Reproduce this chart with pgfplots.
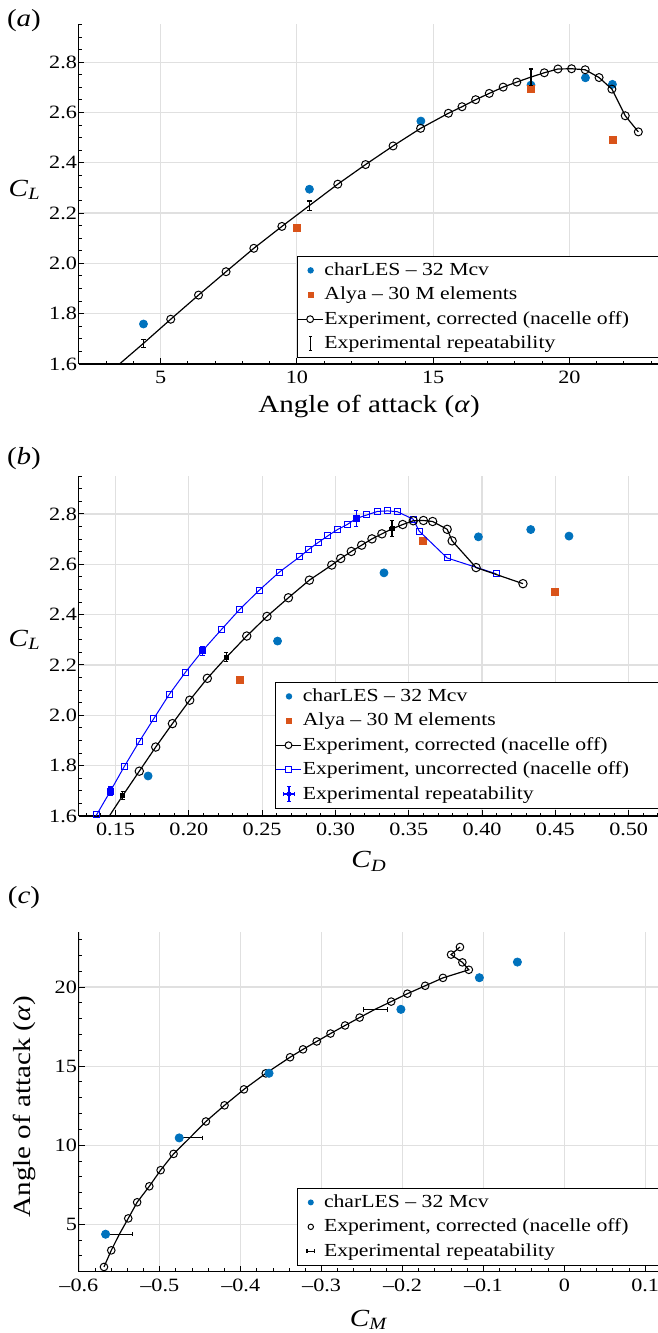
\documentclass[border=0pt]{standalone}
\usepackage{fontspec}
\setmainfont{Liberation Serif}[FakeStretch=1.18]
\usepackage{pgfplots}
\pgfplotsset{compat=1.18}
\usepackage{pgfplotstable}

\definecolor{cblue}{RGB}{0,114,189}
\definecolor{corange}{RGB}{217,83,25}
\definecolor{gridgray}{RGB}{224,224,224}
\definecolor{ublue}{RGB}{0,0,255}

\newcommand\tickfont{\fontsize{9.4}{11}\selectfont}
\newcommand\labfont{\fontsize{12.3}{14}\selectfont}
\newcommand\legfont{\fontsize{9.2}{11}\selectfont}

% alpha, CL corrected, CD corrected, CL uncorrected, CD uncorrected, CM
\pgfplotstableread{
a CLc CDc CLu CDu CM
2.30 1.490 0.1340 1.510 0.1267 -0.569
3.35 1.587 0.1443 1.604 0.1370 -0.560
4.37 1.682 0.1550 1.699 0.1465 -0.550
5.37 1.778 0.1662 1.796 0.1559 -0.539
6.39 1.874 0.1774 1.894 0.1660 -0.528
7.40 1.967 0.1888 1.988 0.1762 -0.513
8.42 2.060 0.2006 2.082 0.1865 -0.499
9.45 2.147 0.2126 2.172 0.1978 -0.483
10.46 2.230 0.2255 2.257 0.2094 -0.463
11.50 2.315 0.2395 2.340 0.2221 -0.443
12.52 2.393 0.2533 2.421 0.2347 -0.420
13.53 2.467 0.2679 2.497 0.2480 -0.396
14.54 2.537 0.2822 2.569 0.2617 -0.369
15.56 2.597 0.2975 2.630 0.2757 -0.339
16.06 2.623 0.3036 2.658 0.2815 -0.323
16.56 2.651 0.3108 2.686 0.2881 -0.306
17.06 2.676 0.3179 2.713 0.2948 -0.289
17.57 2.701 0.3249 2.738 0.3014 -0.271
18.07 2.721 0.3317 2.759 0.3083 -0.253
18.59 2.741 0.3386 2.782 0.3142 -0.234
19.08 2.758 0.3459 2.796 0.3215 -0.214
19.58 2.773 0.3531 2.810 0.3286 -0.194
20.08 2.774 0.3600 2.812 0.3356 -0.172
20.58 2.770 0.3663 2.809 0.3422 -0.150
21.09 2.739 0.3762 2.779 0.3531 -0.118
21.56 2.693 0.3796 2.732 0.3571 -0.126
22.05 2.587 0.3959 2.625 0.3762 -0.140
22.53 2.523 0.4279 2.562 0.4098 -0.129
}\expdata

\pgfplotstableread{
a CL CD CM
4.37 1.759 0.1722 -0.567
10.46 2.295 0.2605 -0.476
14.55 2.566 0.3331 -0.365
18.59 2.709 0.3975 -0.202
20.59 2.738 0.4332 -0.105
21.58 2.712 0.4593 -0.058
}\charles

\pgfplotstableread{
a CL CD
10.00 2.140 0.2346
18.59 2.692 0.3597
21.58 2.491 0.4496
}\alya

\pgfplotstableread{
a CL CD CDu CLu CM eCL eCD eCM
4.37 1.682 0.1550 0.1465 1.699 -0.5500 0.016 0.0010 0.0160
10.46 2.230 0.2255 0.2094 2.257 -0.4635 0.018 0.0012 0.0160
18.59 2.741 0.3386 0.3142 2.782 -0.2336 0.032 0.0015 0.0145
}\ebdata

\pgfplotsset{
  myax/.style={
    scale only axis, width=290.2pt,
    axis x line*=bottom, axis y line*=left,
    axis line style={-, line width=0.55pt, black},
    tick align=inside, major tick length=2.8pt, minor tick length=1.6pt,
    tick style={black, line width=0.5pt},
    xmajorgrids, ymajorgrids,
    major grid style={gridgray, line width=0.6pt},
    tick label style={font=\tickfont},
    /pgf/number format/assume math mode=true,
    label style={font=\labfont},
    yticklabel style={inner xsep=0.8pt},
    xticklabel style={inner ysep=1pt, yshift=-2.5pt},
    clip mode=individual,
    legend cell align=left,
    legend style={draw=black, line width=0.5pt, fill=white, font=\legfont,
      anchor=north west, inner xsep=0pt, inner ysep=1pt, row sep=0pt,
      column sep=0pt,
      nodes={inner xsep=0.6pt, inner ysep=1.6pt, text height=7pt, text depth=2pt}},
  },
  errbar/.style={error bars/error bar style={line width=0.55pt},
    error bars/error mark options={rotate=90, mark size=1.1pt, line width=0.55pt}},
  imgdot/.style={legend image code/.code={\path[draw=none,fill=none] (0pt,-3pt) rectangle (12.5pt,3pt);
      \fill[cblue, draw=none] (6.5pt,0pt) circle (1.6pt);}},
  imgsq/.style={legend image code/.code={\path[draw=none,fill=none] (0pt,-3pt) rectangle (12.5pt,3pt);
      \fill[corange, draw=none] (5pt,-1.5pt) rectangle (8pt,1.5pt);}},
  imgcirc/.style={legend image code/.code={\path[draw=none,fill=none] (0pt,-3pt) rectangle (12.5pt,3pt);
      \draw[black, line width=0.6pt] (0pt,0pt) -- (12.5pt,0pt);
      \draw[black, line width=0.5pt, fill=white] (6.25pt,0pt) circle (1.7pt);}},
  imgusq/.style={legend image code/.code={\path[draw=none,fill=none] (0pt,-3pt) rectangle (12.5pt,3pt);
      \draw[ublue, line width=0.5pt] (0pt,0pt) -- (12.5pt,0pt);
      \draw[ublue, line width=0.5pt, fill=white] (4.9pt,-1.35pt) rectangle (7.6pt,1.35pt);}},
  imgebv/.style={legend image code/.code={\path[draw=none,fill=none] (0pt,-3pt) rectangle (12.5pt,3pt);
      \draw[black, line width=0.55pt] (6.5pt,-3.6pt) -- (6.5pt,3.6pt)
        (5.6pt,-3.6pt) -- (7.4pt,-3.6pt) (5.6pt,3.6pt) -- (7.4pt,3.6pt);}},
  imgebx/.style={legend image code/.code={\path[draw=none,fill=none] (0pt,-3pt) rectangle (12.5pt,3pt);
      \draw[ublue, line width=0.6pt] (6.5pt,-3.8pt) -- (6.5pt,3.8pt)
        (5.6pt,-3.8pt) -- (7.4pt,-3.8pt) (5.6pt,3.8pt) -- (7.4pt,3.8pt)
        (3.6pt,0pt) -- (9.4pt,0pt) (3.6pt,-0.9pt) -- (3.6pt,0.9pt) (9.4pt,-0.9pt) -- (9.4pt,0.9pt);
      \fill[ublue, draw=none] (5.7pt,-0.8pt) rectangle (7.3pt,0.8pt);}},
  imgdotc/.style={legend image code/.code={\path[draw=none,fill=none] (0pt,-3pt) rectangle (12.5pt,3pt);
      \fill[cblue, draw=none] (6.5pt,0pt) circle (1.5pt);}},
  imgcircc/.style={legend image code/.code={\path[draw=none,fill=none] (0pt,-3pt) rectangle (12.5pt,3pt);
      \draw[black, line width=0.5pt, fill=none] (6.5pt,0pt) circle (1.35pt);}},
  imgebh/.style={legend image code/.code={\path[draw=none,fill=none] (0pt,-3pt) rectangle (12.5pt,3pt);
      \draw[black, line width=0.55pt] (4.6pt,0pt) -- (8.4pt,0pt)
        (4.6pt,-0.9pt) -- (4.6pt,0.9pt) (8.4pt,-0.9pt) -- (8.4pt,0.9pt);}},
}

\begin{document}
\begin{tikzpicture}
\useasboundingbox (0,0) rectangle (329pt,666.5pt);

% ---------------- (a) ----------------
\begin{axis}[myax, at={(39.45pt,484.5pt)}, anchor=south west, height=169.75pt,
  xmin=2, xmax=23.3, ymin=1.6, ymax=2.95,
  xtick={5,10,15,20}, minor xtick={3,4,...,23},
  ytick={1.6,1.8,2.0,2.2,2.4,2.6,2.8}, minor ytick={1.65,1.7,...,2.95},
  yticklabel style={/pgf/number format/fixed, /pgf/number format/fixed zerofill, /pgf/number format/precision=1},
  xlabel={Angle of attack (\textit{α})},
  ylabel={\textit{C}\textsubscript{\textit{L}}},
  xlabel style={at={(axis description cs:0.5,-0.144)}, anchor=base},
  ylabel style={at={(axis description cs:-0.0934,0.5125)}, anchor=center, rotate=-90},
  legend style={at={(0.375,0.319)}},
  extra description/.code={\node[font=\labfont] at (-0.0946,1.0103) {(\textit{a})};},
]
\addlegendimage{imgdot}\addlegendentry{charLES – 32 Mcv}
\addlegendimage{imgsq}\addlegendentry{Alya – 30 M elements}
\addlegendimage{imgcirc}\addlegendentry{Experiment, corrected (nacelle off)\hspace*{22pt}}
\addlegendimage{imgebv}\addlegendentry{Experimental repeatability}
\addplot[only marks, mark=*, mark size=2pt, cblue, forget plot] table[x=a, y=CL]{\charles};
\addplot[only marks, mark=square*, mark size=1.75pt, corange, forget plot] table[x=a, y=CL]{\alya};
\addplot[black, line width=0.6pt, forget plot] table[x=a, y=CLc]{\expdata};
\addplot[only marks, mark=o, mark size=2pt, mark options={black, line width=0.5pt}, forget plot,
  skip coords between index={2}{3}, skip coords between index={8}{9}, skip coords between index={19}{20}]
  table[x=a, y=CLc]{\expdata};
\addplot[black, draw=none, mark=none, forget plot, errbar,
  error bars/.cd, y dir=both, y explicit] table[x=a, y=CL, y error=eCL]{\ebdata};
\end{axis}

% ---------------- (b) ----------------
\begin{axis}[myax, at={(39.45pt,258.5pt)}, anchor=south west, height=169.9pt,
  xmin=0.125, xmax=0.5209, ymin=1.6, ymax=2.95,
  xtick={0.15,0.20,0.25,0.30,0.35,0.40,0.45,0.50}, minor xtick={0.13,0.14,...,0.52},
  ytick={1.6,1.8,2.0,2.2,2.4,2.6,2.8}, minor ytick={1.65,1.7,...,2.95},
  xticklabel style={/pgf/number format/fixed, /pgf/number format/fixed zerofill, /pgf/number format/precision=2},
  yticklabel style={/pgf/number format/fixed, /pgf/number format/fixed zerofill, /pgf/number format/precision=1},
  xlabel={\textit{C}\textsubscript{\textit{D}}},
  ylabel={\textit{C}\textsubscript{\textit{L}}},
  xlabel style={at={(axis description cs:0.5,-0.153)}, anchor=base},
  ylabel style={at={(axis description cs:-0.0934,0.518)}, anchor=center, rotate=-90},
  legend style={at={(0.3377,0.3952)}},
  extra description/.code={\node[font=\labfont] at (-0.0946,1.0506) {(\textit{b})};},
]
\addlegendimage{imgdot}\addlegendentry{charLES – 32 Mcv}
\addlegendimage{imgsq}\addlegendentry{Alya – 30 M elements}
\addlegendimage{imgcirc}\addlegendentry{Experiment, corrected (nacelle off)}
\addlegendimage{imgusq}\addlegendentry{Experiment, uncorrected (nacelle off)\hspace*{22pt}}
\addlegendimage{imgebx}\addlegendentry{Experimental repeatability}
\addplot[only marks, mark=*, mark size=2pt, cblue, forget plot] table[x=CD, y=CL]{\charles};
\addplot[only marks, mark=square*, mark size=1.75pt, corange, forget plot] table[x=CD, y=CL]{\alya};
\addplot[ublue, line width=0.5pt, mark=square, mark size=1.5pt, mark options={line width=0.5pt}, forget plot]
  table[x=CDu, y=CLu]{\expdata};
\addplot[black, line width=0.6pt, forget plot] table[x=CDc, y=CLc]{\expdata};
\addplot[only marks, mark=o, mark size=2.1pt, mark options={black, line width=0.5pt}, forget plot,
  skip coords between index={2}{3}, skip coords between index={8}{9}, skip coords between index={19}{20}]
  table[x=CDc, y=CLc]{\expdata};
\addplot[black, draw=none, mark=square*, mark size=1pt, forget plot, errbar,
  error bars/.cd, y dir=both, y explicit, x dir=both, x explicit]
  table[x=CD, y=CL, y error=eCL, x error=eCD]{\ebdata};
\addplot[ublue, draw=none, mark=square*, mark size=1pt, forget plot, errbar,
  error bars/.cd, y dir=both, y explicit, x dir=both, x explicit]
  table[x=CDu, y=CLu, y error=eCL, x error=eCD]{\ebdata};
\end{axis}

% ---------------- (c) ----------------
\begin{axis}[myax, at={(39.45pt,30.65pt)}, anchor=south west, height=170pt,
  xmin=-0.6, xmax=0.1174, ymin=2, ymax=23.5,
  xtick={-0.6,-0.5,-0.4,-0.3,-0.2,-0.1,0,0.1},
  xticklabels={–0.6,–0.5,–0.4,–0.3,–0.2,–0.1,0,0.1},
  minor xtick={-0.58,-0.56,...,0.12},
  ytick={5,10,15,20}, minor ytick={3,4,...,23},
  xlabel={\textit{C}\textsubscript{\textit{M}}},
  ylabel={Angle of attack (\textit{α})},
  xlabel style={at={(axis description cs:0.5,-0.160)}, anchor=base},
  ylabel style={at={(axis description cs:-0.093,0.485)}, anchor=center},
  legend style={at={(0.3763,0.247)}},
  extra description/.code={\node[font=\labfont] at (-0.0946,1.1006) {(\textit{c})};},
]
\addlegendimage{imgdotc}\addlegendentry{charLES – 32 Mcv}
\addlegendimage{imgcircc}\addlegendentry{Experiment, corrected (nacelle off)\hspace*{22pt}}
\addlegendimage{imgebh}\addlegendentry{Experimental repeatability}
\addplot[black, line width=0.6pt, forget plot] table[x=CM, y=a]{\expdata};
\addplot[only marks, mark=o, mark size=1.9pt, mark options={black, line width=0.5pt}, forget plot,
  skip coords between index={2}{3}, skip coords between index={8}{9}, skip coords between index={19}{20}]
  table[x=CM, y=a]{\expdata};
\addplot[black, draw=none, mark=none, forget plot, errbar,
  error bars/.cd, x dir=both, x explicit] table[x=CM, y=a, x error=eCM]{\ebdata};
\addplot[only marks, mark=*, mark size=2.05pt, cblue, forget plot] table[x=CM, y=a]{\charles};
\end{axis}
\end{tikzpicture}
\end{document}
